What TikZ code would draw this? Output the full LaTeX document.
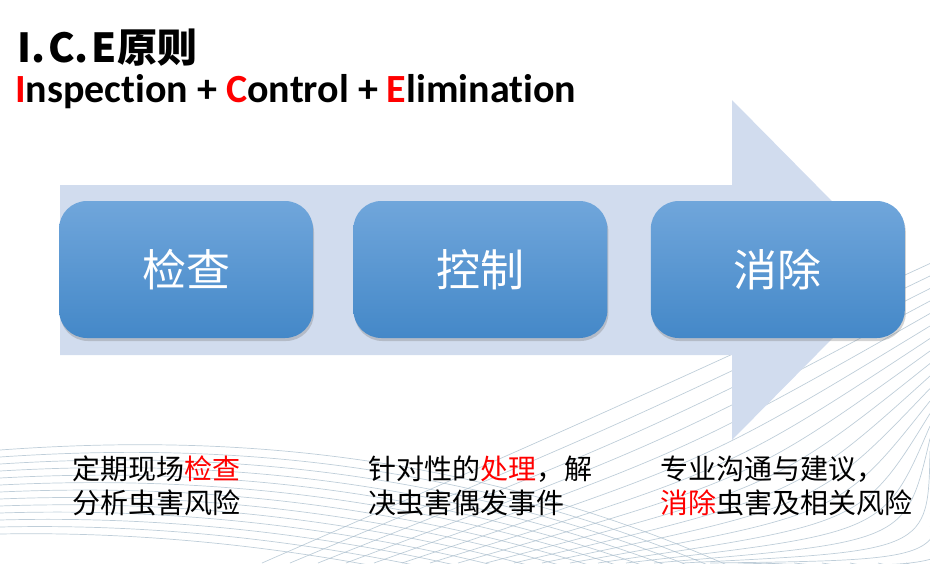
\documentclass[tikz,border=0pt]{standalone}
\usepackage{fontspec}
\setmainfont{Carlito}[Ligatures=NoCommon]
\newfontfamily\cjk{Noto Sans CJK SC}
\usetikzlibrary{positioning,shadows}
\definecolor{arrowblue}{HTML}{D1DCEE}
\definecolor{boxtop}{HTML}{70A6DB}
\definecolor{boxbottom}{HTML}{4488C8}
\definecolor{gridline}{HTML}{A9BDCC}
\definecolor{markred}{HTML}{FF0000}
\tikzset{
  stagebox/.style={rounded corners=28pt, top color=boxtop, bottom color=boxbottom,
    minimum width=254pt, minimum height=137pt, text=white,
    font=\cjk\fontsize{44}{44}\selectfont,
    drop shadow={shadow xshift=1pt, shadow yshift=-3pt, opacity=0.35}},
  notetext/.style={anchor=north west, align=left, inner sep=0pt,
    font=\cjk\fontsize{28}{34}\selectfont},
  bgline/.style={gridline, line width=0.7pt, opacity=0.75}
}
\begin{document}
\begin{tikzpicture}[x=1pt,y=-1pt]
  \useasboundingbox (0,0) rectangle (930,563);
  \begin{scope}
    \clip (0,0) rectangle (930,563);
    \foreach \j in {0,...,12}
      \draw[bgline] (0,{450+7*\j}) .. controls (220,{434+8*\j}) and (480,{448+10*\j}) .. (760,{580+8*\j});
    \foreach \i in {-1,...,23}
      \draw[bgline] ({290+28*\i},563) .. controls ({620+22*\i},{425+9*\i}) .. (930,{276+12.5*\i});
  \end{scope}

  \fill[arrowblue] (60,185) -- (732,185) -- (732,100) -- (900,270) -- (732,440) -- (732,355) -- (60,355) -- cycle;

  \node[stagebox] (inspect) at (186,269.5) {检查};
  \node[stagebox, right=40pt of inspect] (control) {控制};
  \node[stagebox, right=43pt of control] (eliminate) {消除};

  \node[anchor=west, inner sep=0pt, font=\cjk\bfseries\fontsize{40}{40}\selectfont] (title) at (17,48) {I.\hspace{3pt}C.\hspace{3pt}E原则};
  \node[anchor=west, inner sep=0pt, font=\bfseries\fontsize{40}{40}\selectfont] (subtitle) at (15,92)
    {\textcolor{markred}{I}nspection + \textcolor{markred}{C}ontrol + \textcolor{markred}{E}limination};

  \node[notetext] (note1) at (72,456) {定期现场\textcolor{markred}{检查}\\分析虫害风险};
  \node[notetext] (note2) at (368,456) {针对性的\textcolor{markred}{处理}，解\\决虫害偶发事件};
  \node[notetext] (note3) at (660,456) {专业沟通与建议，\\\textcolor{markred}{消除}虫害及相关风险};
\end{tikzpicture}
\end{document}
